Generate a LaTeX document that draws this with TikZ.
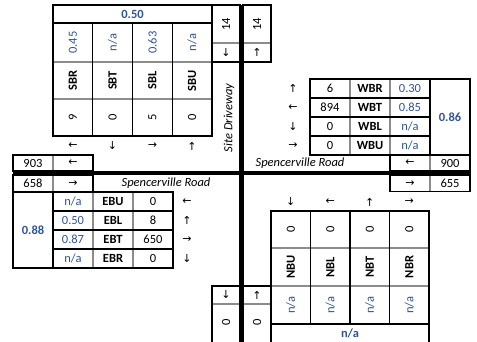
\documentclass[tikz,border=0pt]{standalone}
\usepackage{fontspec}
\setmainfont{Carlito}
\newfontfamily\arrowfont{DejaVu Sans}
\definecolor{ratioblue}{RGB}{47,85,151}
\begin{document}
\begin{tikzpicture}[x=1pt,y=-1pt,
  blk/.style={line width=1.4pt, black},
  gry/.style={line width=1.2pt, black!45},
  road/.style={line width=4.2pt, black},
  txt/.style={font=\fontsize{12.5}{12.5}\selectfont, inner sep=0pt, anchor=center},
  lbl/.style={txt, font=\fontsize{12.5}{12.5}\selectfont\bfseries},
  rat/.style={txt, text=ratioblue},
  ratb/.style={txt, text=ratioblue, font=\fontsize{12.5}{12.5}\selectfont\bfseries},
  arr/.style={txt, font=\arrowfont\fontsize{11}{11}\selectfont},
  rdname/.style={txt, font=\fontsize{12.5}{12.5}\selectfont\itshape},
]
\useasboundingbox (0,0) rectangle (477,341);

% ---------- South-bound block (top left) ----------
\draw[gry] (53,62) -- (212,62) (53,99) -- (212,99);
\draw[blk] (53,5) rectangle (212,136);
\draw[blk] (53,23) -- (212,23);
\foreach \x in {92.75,132.5,172.25} \draw[blk] (\x,23) -- (\x,136);
\node[ratb] (sbphf) at (132.5,14) {0.50};
\node[rat,rotate=90] (sbrr) at (72.9,42.5) {0.45};
\node[rat,rotate=90] (sbtr) at (112.6,42.5) {n/a};
\node[rat,rotate=90] (sblr) at (152.4,42.5) {0.63};
\node[rat,rotate=90] (sbur) at (192.1,42.5) {n/a};
\node[lbl,rotate=90] (sbrl) at (72.9,80.5) {SBR};
\node[lbl,rotate=90] (sbtl) at (112.6,80.5) {SBT};
\node[lbl,rotate=90] (sbll) at (152.4,80.5) {SBL};
\node[lbl,rotate=90] (sbul) at (192.1,80.5) {SBU};
\node[txt,rotate=90] (sbrv) at (72.9,117.5) {9};
\node[txt,rotate=90] (sbtv) at (112.6,117.5) {0};
\node[txt,rotate=90] (sblv) at (152.4,117.5) {5};
\node[txt,rotate=90] (sbuv) at (192.1,117.5) {0};
\node[arr] (sbra) at (72.9,146) {←};
\node[arr] (sbta) at (112.6,146) {↓};
\node[arr] (sbla) at (152.4,146) {→};
\node[arr] (sbua) at (192.1,146) {↑};

% ---------- Site driveway volumes (top) ----------
\draw[gry] (212,43) -- (240,43) (243,43) -- (271,43);
\draw[blk] (212,5) rectangle (240,62) (243,5) rectangle (271,62);
\node[txt,rotate=90] (nin) at (226,24) {14};
\node[txt,rotate=90] (nout) at (257,24) {14};
\node[arr] (nina) at (226,52.5) {↓};
\node[arr] (nouta) at (257,52.5) {↑};
\node[rdname,rotate=90] (site) at (229,118) {Site Driveway};

% ---------- West leg volumes ----------
\draw[gry] (53,155) -- (53,171);
\draw[blk] (13,155) rectangle (93,171);
\node[txt] (wout) at (33,163) {903};
\node[arr] (wouta) at (73,163) {←};
\draw[gry] (53,175) -- (53,192);
\draw[blk] (13,175) rectangle (93,192);
\node[txt] (win) at (33,183.5) {658};
\node[arr] (wina) at (73,183.5) {→};
\node[rdname] (rdw) at (166,183.5) {Spencerville Road};

% ---------- West-bound block (top right) ----------
\draw[gry] (350,79) -- (350,155) (390,79) -- (390,155);
\draw[blk] (310,79) rectangle (470,155);
\draw[blk] (430,79) -- (430,155);
\foreach \y in {98,117,136} \draw[blk] (310,\y) -- (430,\y);
\node[arr] (wbra) at (293,88.5) {↑};
\node[arr] (wbta) at (293,107.5) {←};
\node[arr] (wbla) at (293,126.5) {↓};
\node[arr] (wbua) at (293,145.5) {→};
\node[txt] (wbrv) at (330,88.5) {6};
\node[txt] (wbtv) at (330,107.5) {894};
\node[txt] (wblv) at (330,126.5) {0};
\node[txt] (wbuv) at (330,145.5) {0};
\node[lbl] (wbrl) at (370,88.5) {WBR};
\node[lbl] (wbtl) at (370,107.5) {WBT};
\node[lbl] (wbll) at (370,126.5) {WBL};
\node[lbl] (wbul) at (370,145.5) {WBU};
\node[rat] (wbrr) at (410,88.5) {0.30};
\node[rat] (wbtr) at (410,107.5) {0.85};
\node[rat] (wblr) at (410,126.5) {n/a};
\node[rat] (wbur) at (410,145.5) {n/a};
\node[ratb] (wbphf) at (450,117) {0.86};

% ---------- East leg volumes ----------
\draw[gry] (430,155) -- (430,171);
\draw[blk] (390,155) rectangle (470,171);
\node[arr] (eouta) at (410,163) {←};
\node[txt] (eout) at (450,163) {900};
\draw[gry] (430,175) -- (430,191.5);
\draw[blk] (390,175) rectangle (470,191.5);
\node[arr] (eina) at (410,183.5) {→};
\node[txt] (ein) at (450,183.5) {655};
\node[rdname] (rde) at (300,163) {Spencerville Road};

% ---------- East-bound block (bottom left) ----------
\draw[gry] (93,192) -- (93,268) (133,192) -- (133,268);
\draw[blk] (13,192) rectangle (173,268);
\draw[blk] (53,192) -- (53,268);
\foreach \y in {211,230,249} \draw[blk] (53,\y) -- (173,\y);
\node[ratb] (ebphf) at (33,230) {0.88};
\node[rat] (ebur) at (73,201.5) {n/a};
\node[rat] (eblr) at (73,220.5) {0.50};
\node[rat] (ebtr) at (73,239.5) {0.87};
\node[rat] (ebrr) at (73,258.5) {n/a};
\node[lbl] (ebul) at (113,201.5) {EBU};
\node[lbl] (ebll) at (113,220.5) {EBL};
\node[lbl] (ebtl) at (113,239.5) {EBT};
\node[lbl] (ebrl) at (113,258.5) {EBR};
\node[txt] (ebuv) at (153,201.5) {0};
\node[txt] (eblv) at (153,220.5) {8};
\node[txt] (ebtv) at (153,239.5) {650};
\node[txt] (ebrv) at (153,258.5) {0};
\node[arr] (ebua) at (187,201.5) {←};
\node[arr] (ebla) at (187,220.5) {↑};
\node[arr] (ebta) at (187,239.5) {→};
\node[arr] (ebra) at (187,258.5) {↓};

% ---------- North-bound block (bottom right) ----------
\draw[gry] (271,248) -- (429,248) (271,286) -- (429,286);
\draw[blk] (271,211) rectangle (429,345);
\draw[blk] (271,324) -- (429,324);
\foreach \x in {310.5,350,389.5} \draw[blk] (\x,211) -- (\x,324);
\node[arr] (nbua) at (290.75,202) {↓};
\node[arr] (nbla) at (330.25,202) {←};
\node[arr] (nbta) at (369.75,202) {↑};
\node[arr] (nbra) at (409.25,202) {→};
\node[txt,rotate=90] (nbuv) at (290.75,229.5) {0};
\node[txt,rotate=90] (nblv) at (330.25,229.5) {0};
\node[txt,rotate=90] (nbtv) at (369.75,229.5) {0};
\node[txt,rotate=90] (nbrv) at (409.25,229.5) {0};
\node[lbl,rotate=90] (nbul) at (290.75,267) {NBU};
\node[lbl,rotate=90] (nbll) at (330.25,267) {NBL};
\node[lbl,rotate=90] (nbtl) at (369.75,267) {NBT};
\node[lbl,rotate=90] (nbrl) at (409.25,267) {NBR};
\node[rat,rotate=90] (nbur) at (290.75,305) {n/a};
\node[rat,rotate=90] (nblr) at (330.25,305) {n/a};
\node[rat,rotate=90] (nbtr) at (369.75,305) {n/a};
\node[rat,rotate=90] (nbrr) at (409.25,305) {n/a};
\node[ratb] (nbphf) at (350,333) {n/a};

% ---------- Site driveway volumes (bottom) ----------
\draw[gry] (212,304) -- (240,304) (243,304) -- (271,304);
\draw[blk] (212,286) rectangle (240,345) (243,286) rectangle (271,345);
\node[arr] (souta) at (226,295) {↓};
\node[arr] (sina) at (257,295) {↑};
\node[txt,rotate=90] (sout) at (226,322) {0};
\node[txt,rotate=90] (sin) at (257,322) {0};

% ---------- Roads ----------
\draw[road] (241.5,5) -- (241.5,345);
\draw[road] (13,173) -- (471,173);
\end{tikzpicture}
\end{document}
